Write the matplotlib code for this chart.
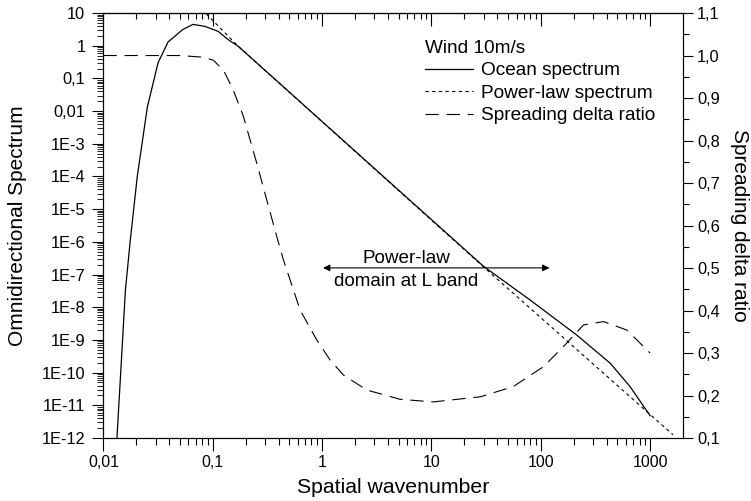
import matplotlib
matplotlib.use('Agg')
import matplotlib.pyplot as plt
from matplotlib.ticker import FixedLocator, NullFormatter, MultipleLocator

plt.rcParams['font.family'] = ['Liberation Sans', 'DejaVu Sans']

# ocean spectrum (left axis)
k_ocean = [0.0133, 0.0159, 0.0176, 0.0204, 0.0252, 0.0316, 0.039, 0.053, 0.066,
           0.085, 0.112, 0.139, 0.171, 0.3, 1, 3, 10, 30, 80, 214, 431, 657, 1000]
s_ocean = [1e-12, 3.4e-8, 1.1e-6, 1.0e-4, 1.3e-2, 0.30, 1.3, 3.1, 4.5,
           3.9, 2.75, 1.52, 0.96, 0.178, 4.8e-3, 1.78e-4, 4.8e-6, 1.78e-7, 1.66e-8,
           1.4e-9, 1.95e-10, 3.7e-11, 4.8e-12]

# power-law spectrum (left axis)
k_power = [0.087, 0.171, 30, 1620]
s_power = [9.5, 0.96, 1.7e-7, 1.26e-12]

# spreading delta ratio (right axis)
k_delta = [0.01, 0.05, 0.082, 0.101, 0.125, 0.154, 0.19, 0.253, 0.312, 0.385,
           0.443, 0.63, 0.893, 1.18, 1.57, 2.56, 5.18, 10.4, 28, 56, 106, 161,
           246, 375, 613, 1000]
delta = [1.0, 1.0, 0.996, 0.989, 0.966, 0.919, 0.858, 0.746, 0.66, 0.574,
         0.519, 0.401, 0.331, 0.284, 0.248, 0.213, 0.191, 0.185, 0.197, 0.221,
         0.268, 0.315, 0.366, 0.374, 0.354, 0.30]

xticks = [0.01, 0.1, 1, 10, 100, 1000]
xlabels = ['0,01', '0,1', '1', '10', '100', '1000']
yticks = [10.0 ** e for e in range(1, -13, -1)]
ylabels = ['10', '1', '0,1', '0,01'] + ['1E-%d' % e for e in range(3, 13)]
rticks = [0.1, 0.2, 0.3, 0.4, 0.5, 0.6, 0.7, 0.8, 0.9, 1.0, 1.1]
rlabels = ['0,1', '0,2', '0,3', '0,4', '0,5', '0,6', '0,7', '0,8', '0,9', '1,0', '1,1']

fig = plt.figure(figsize=(7.51, 5.01), dpi=100)
ax = fig.add_axes([0.1377, 0.1257, 0.7718, 0.8483])
ax2 = ax.twinx()

l1, = ax.plot(k_ocean, s_ocean, color='black', lw=0.9, label='Ocean spectrum')
l2, = ax.plot(k_power, s_power, color='black', lw=0.8, ls=(0, (3, 3)),
              label='Power-law spectrum')
l3, = ax2.plot(k_delta, delta, color='black', lw=0.8, ls=(0, (12, 7)),
               label='Spreading delta ratio')

ax.set_xscale('log')
ax.set_yscale('log')
ax.set_xlim(0.01, 2000)
ax.set_ylim(1e-12, 10)
ax2.set_ylim(0.1, 1.1)

minor_x = [m * 10.0 ** e for e in range(-2, 4) for m in range(2, 10)]
minor_x = [v for v in minor_x if v < 2000]
minor_y = [m * 10.0 ** e for e in range(-12, 1) for m in range(2, 10)]

ax.xaxis.set_major_locator(FixedLocator(xticks))
ax.xaxis.set_minor_locator(FixedLocator(minor_x))
ax.set_xticklabels(xlabels)
ax.xaxis.set_minor_formatter(NullFormatter())
ax.yaxis.set_major_locator(FixedLocator(yticks))
ax.yaxis.set_minor_locator(FixedLocator(minor_y))
ax.set_yticklabels(ylabels)
ax.yaxis.set_minor_formatter(NullFormatter())

ax.tick_params(axis='x', which='major', direction='out', length=9, width=0.8,
               labelsize=11.5, pad=3)
ax.tick_params(axis='x', which='minor', direction='out', length=5, width=0.8)
ax.tick_params(axis='y', which='major', direction='out', length=8, width=0.8,
               labelsize=11.8, pad=5)
ax.tick_params(axis='y', which='minor', direction='out', length=4, width=0.6)

top = ax.secondary_xaxis('top')
top.xaxis.set_major_locator(FixedLocator(xticks))
top.xaxis.set_minor_locator(FixedLocator(minor_x))
top.xaxis.set_major_formatter(NullFormatter())
top.xaxis.set_minor_formatter(NullFormatter())
top.tick_params(which='major', direction='in', length=9, width=0.8)
top.tick_params(which='minor', direction='in', length=4, width=0.8)

ax2.yaxis.set_major_locator(FixedLocator(rticks))
ax2.set_yticklabels(rlabels)
ax2.yaxis.set_minor_locator(MultipleLocator(0.05))
ax2.tick_params(which='major', direction='out', length=7, width=0.8,
                labelsize=11.8, pad=3)
ax2.tick_params(which='minor', direction='out', length=4, width=0.8)

for a in (ax, ax2):
    for s in a.spines.values():
        s.set_linewidth(0.8)

ax.set_xlabel('Spatial wavenumber', fontsize=15.3)
ax.set_ylabel('Omnidirectional Spectrum', fontsize=15, va='center')
ax2.set_ylabel('Spreading delta ratio', fontsize=15, rotation=270, va='center')
ax.xaxis.set_label_coords(0.5, -0.095)
ax.yaxis.set_label_coords(-0.148, 0.5)
ax2.yaxis.set_label_coords(1.098, 0.5)

# power-law domain arrow
ax.annotate('', xy=(1.02, 1.6e-7), xytext=(120, 1.6e-7),
            arrowprops=dict(arrowstyle='<|-|>', color='black', lw=0.8,
                            mutation_scale=10, shrinkA=0, shrinkB=0))
ax.annotate('Power-law', xy=(5.87, 1.6e-7), xytext=(0, 3.5),
            textcoords='offset points', ha='center', va='baseline', fontsize=13.6)
ax.annotate('domain at L band', xy=(5.87, 1.6e-7), xytext=(0, -3.5),
            textcoords='offset points', ha='center', va='top', fontsize=13.6)

leg = ax2.legend([l1, l2, l3], [l1.get_label(), l2.get_label(), l3.get_label()],
                 title='Wind 10m/s', loc='upper left',
                 bbox_to_anchor=(425 / 751, 1 - 40 / 501),
                 bbox_transform=fig.transFigure, frameon=False,
                 fontsize=13.7, title_fontsize=13.7, handlelength=2.5,
                 handletextpad=0.42, labelspacing=0.27, borderpad=0,
                 borderaxespad=0, alignment='left')

fig.savefig('out.png', dpi=100)
